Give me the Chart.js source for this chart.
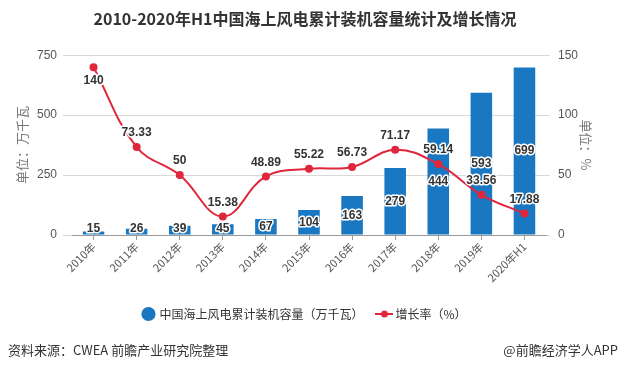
<!DOCTYPE html>
<html>
<head>
<meta charset="utf-8">
<script src="https://cdn.jsdelivr.net/npm/chart.js@4"></script>
<style>
  body { margin: 0; background: #fff; }
  #wrap { position: relative; width: 622px; height: 370px; }
  #footL, #footR {
    position: absolute; top: 340px; font: 13px "Noto Sans CJK SC", sans-serif; color: #333;
  }
  #footL { left: 8px; }
  #footR { right: 4px; }
</style>
</head>
<body>
<div id="wrap">
  <canvas id="chart" width="622" height="370"></canvas>
  <div id="footL">资料来源：CWEA 前瞻产业研究院整理</div>
  <div id="footR">@前瞻经济学人APP</div>
</div>
<script>
document.addEventListener("DOMContentLoaded", () => {

    // ============================
    // DATA
    // ============================
    const years = ["2010年", "2011年", "2012年", "2013年", "2014年", "2015年",
                   "2016年", "2017年", "2018年", "2019年", "2020年H1"];
    const capacity = [15, 26, 39, 45, 67, 104, 163, 279, 444, 593, 699];
    const growth = [140, 73.33, 50, 15.38, 48.89, 55.22, 56.73, 71.17, 59.14, 33.56, 17.88];
    const leftTicks = [0, 250, 500, 750];
    const rightTicks = [0, 50, 100, 150];

    const BLUE = "#1a78c2";
    const RED = "#e0263b";
    const FONT = "'Liberation Sans', Arial, 'Noto Sans CJK SC', sans-serif";
    const CJK = "'Noto Sans CJK SC', sans-serif";

    // legend icon for line series: line with dot
    const lineIcon = document.createElement("canvas");
    lineIcon.width = 18; lineIcon.height = 10;
    const ic = lineIcon.getContext("2d");
    ic.strokeStyle = RED; ic.lineWidth = 2;
    ic.beginPath(); ic.moveTo(0, 5); ic.lineTo(18, 5); ic.stroke();
    ic.fillStyle = RED;
    ic.beginPath(); ic.arc(9, 5, 3.5, 0, Math.PI * 2); ic.fill();

    // ============================
    // VALUE LABELS
    // ============================
    const valueLabels = {
        id: "valueLabels",
        afterDatasetsDraw(chart) {
            const ctx = chart.ctx;
            ctx.save();
            ctx.font = "bold 12px " + FONT;
            ctx.textAlign = "center";
            ctx.textBaseline = "middle";
            ctx.lineJoin = "round";
            ctx.lineWidth = 3;
            ctx.strokeStyle = "#fff";
            ctx.fillStyle = "#333";

            const draw = (txt, x, y) => {
                ctx.strokeText(txt, x, y);
                ctx.fillText(txt, x, y);
            };

            // bars: label in the middle of the bar
            chart.getDatasetMeta(0).data.forEach((bar, i) => {
                const y = Math.min((bar.y + bar.base) / 2, bar.base - 6);
                draw(String(capacity[i]), bar.x, y);
            });

            // line: label above point (first one below)
            chart.getDatasetMeta(1).data.forEach((pt, i) => {
                const y = i === 0 ? pt.y + 14 : pt.y - 14;
                draw(String(growth[i]), pt.x, y);
            });
            ctx.restore();
        }
    };

    // ============================
    // CHART
    // ============================
    new Chart(document.getElementById("chart"), {
        data: {
            labels: years,
            datasets: [{
                type: "bar",
                label: "中国海上风电累计装机容量（万千瓦）",
                data: capacity,
                backgroundColor: BLUE,
                barPercentage: 0.5,
                categoryPercentage: 1,
                yAxisID: "y",
                order: 2
            }, {
                type: "line",
                label: "增长率（%）",
                data: growth,
                borderColor: RED,
                backgroundColor: RED,
                borderWidth: 2,
                tension: 0.4,
                pointRadius: 4,
                pointBackgroundColor: RED,
                pointBorderWidth: 0,
                yAxisID: "y1",
                order: 1
            }]
        },
        options: {
            responsive: false,
            animation: false,
            layout: { padding: { top: 0, bottom: 40, left: 14, right: 26 } },
            plugins: {
                title: {
                    display: true,
                    text: "2010-2020年H1中国海上风电累计装机容量统计及增长情况",
                    color: "#333",
                    font: { size: 16, weight: "bold", family: CJK },
                    padding: { top: 9, bottom: 27 }
                },
                legend: {
                    position: "bottom",
                    labels: {
                        color: "#333",
                        font: { size: 12, family: CJK },
                        padding: 16,
                        boxWidth: 10,
                        boxHeight: 10,
                        usePointStyle: true,
                        generateLabels: (chart) => chart.data.datasets.map((ds, i) => ({
                            text: ds.label,
                            fillStyle: ds.backgroundColor,
                            strokeStyle: ds.backgroundColor,
                            lineWidth: 0,
                            pointStyle: i === 0 ? "circle" : lineIcon,
                            datasetIndex: i,
                            fontColor: "#333"
                        }))
                    }
                },
                tooltip: { enabled: false }
            },
            scales: {
                x: {
                    grid: {
                        offset: false,
                        drawOnChartArea: false,
                        color: "#999",
                        tickLength: 5
                    },
                    border: { color: "#999" },
                    ticks: {
                        color: "#555",
                        font: { size: 11, family: CJK },
                        maxRotation: 45,
                        minRotation: 45,
                        padding: 0
                    },
                    afterFit: (s) => { s.height = 57; }
                },
                y: {
                    position: "left",
                    min: 0,
                    max: 750,
                    afterBuildTicks: (s) => { s.ticks = leftTicks.map(v => ({ value: v })); },
                    grid: { color: "#d9d9d9", tickLength: 9 },
                    border: { display: false },
                    ticks: {
                        color: "#555",
                        font: { size: 12, family: FONT },
                        padding: 6
                    },
                    title: {
                        display: true,
                        text: "单位：万千瓦",
                        color: "#777",
                        font: { size: 13, family: CJK },
                        padding: { top: 0, bottom: 4 }
                    },
                    afterFit: (s) => { s.width = 58; }
                },
                y1: {
                    position: "right",
                    min: 0,
                    max: 150,
                    afterBuildTicks: (s) => { s.ticks = rightTicks.map(v => ({ value: v })); },
                    grid: { drawOnChartArea: false, color: "#d9d9d9", tickLength: 4 },
                    border: { display: false },
                    ticks: {
                        color: "#555",
                        font: { size: 12, family: FONT },
                        padding: 8
                    },
                    title: {
                        display: true,
                        text: "单位：%",
                        color: "#777",
                        font: { size: 13, family: CJK },
                        padding: { top: 2, bottom: 0 }
                    },
                    afterFit: (s) => { s.width = 50; }
                }
            }
        },
        plugins: [valueLabels]
    });

});
</script>
</body>
</html>
